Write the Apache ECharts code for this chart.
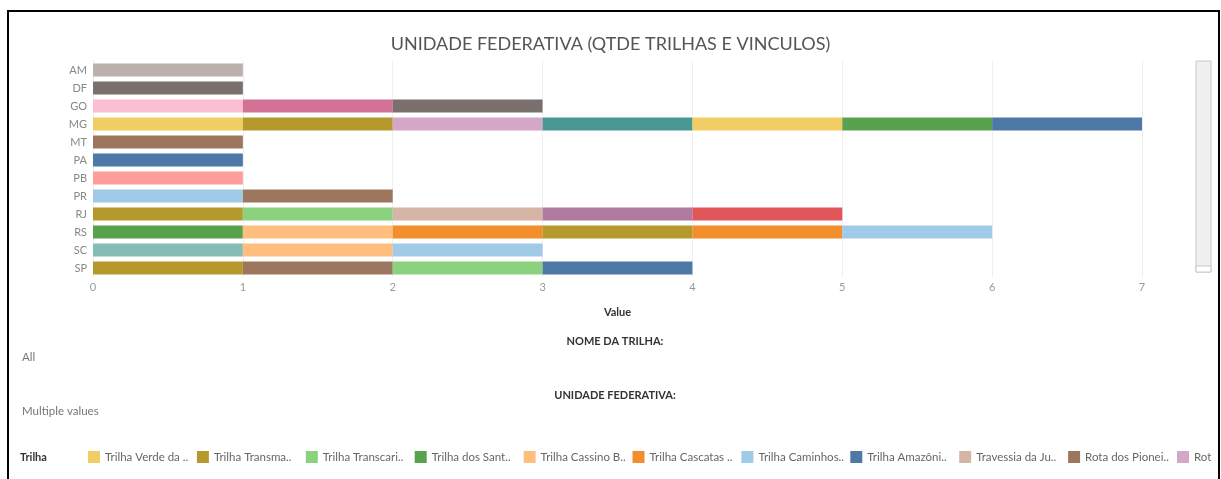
<!DOCTYPE html>
<html>
<head>
<meta charset="utf-8">
<script src="https://cdn.jsdelivr.net/npm/echarts@6/dist/echarts.min.js"></script>
<style>
  html, body { margin: 0; padding: 0; background: #fff; }
  #main { width: 1221px; height: 479px; }
</style>
</head>
<body>
<div id="main"></div>
<script>
// estados (eixo Y)
var states = ['AM', 'DF', 'GO', 'MG', 'MT', 'PA', 'PB', 'PR', 'RJ', 'RS', 'SC', 'SP'];

// cores de cada trilha vinculada, na ordem em que aparecem na barra (cada trilha = 1)
var stateTrails = [
  ['#BAB0AC'],
  ['#79706E'],
  ['#FABFD2', '#D37295', '#79706E'],
  ['#F1CE63', '#B6992D', '#D4A6C8', '#499894', '#F1CE63', '#59A14F', '#4E79A7'],
  ['#9D7660'],
  ['#4E79A7'],
  ['#FF9D9A'],
  ['#A0CBE8', '#9D7660'],
  ['#B6992D', '#8CD17D', '#D7B5A6', '#B07AA1', '#E15759'],
  ['#59A14F', '#FFBE7D', '#F28E2B', '#B6992D', '#F28E2B', '#A0CBE8'],
  ['#86BCB6', '#FFBE7D', '#A0CBE8'],
  ['#B6992D', '#9D7660', '#8CD17D', '#4E79A7']
];
var trailValue = 1; // cada vinculo conta 1

// legenda
var legendNames = ['Trilha Verde da ..', 'Trilha Transma..', 'Trilha Transcari..', 'Trilha dos Sant..',
  'Trilha Cassino B..', 'Trilha Cascatas ..', 'Trilha Caminhos..', 'Trilha Amazôni..',
  'Travessia da Ju..', 'Rota dos Pionei..', 'Rot'];
var legendColors = ['#F1CE63', '#B6992D', '#8CD17D', '#59A14F', '#FFBE7D', '#F28E2B',
  '#A0CBE8', '#4E79A7', '#D7B5A6', '#9D7660', '#D4A6C8'];

var xTicks = [0, 1, 2, 3, 4, 5, 6, 7];

var font = 'Lato, "Noto Sans", sans-serif';

// monta uma serie por posicao do segmento
var maxSeg = Math.max.apply(null, stateTrails.map(function (s) { return s.length; }));
var series = [];
for (var k = 0; k < maxSeg; k++) {
  series.push({
    type: 'bar',
    stack: 'total',
    barWidth: 13,
    silent: true,
    data: stateTrails.map(function (cols) {
      if (k < cols.length) return { value: trailValue, itemStyle: { color: cols[k] } };
      return '-';
    })
  });
}

// elementos extras (filtros, legenda, moldura)
var graphics = [
  { type: 'rect', shape: { x: 8, y: 11, width: 1211, height: 490 }, style: { fill: 'none', stroke: '#000', lineWidth: 2 } },
  { type: 'rect', shape: { x: 1196, y: 61, width: 15, height: 211 }, style: { fill: '#f0f0f0', stroke: '#c8c8c8', lineWidth: 1 } },
  { type: 'rect', shape: { x: 1196, y: 266, width: 15, height: 6 }, style: { fill: '#fff', stroke: '#c8c8c8', lineWidth: 1 } },
  { type: 'text', x: 615, y: 341, style: { text: 'NOME DA TRILHA:', fill: '#333', font: 'bold 11px ' + font, textAlign: 'center', textVerticalAlign: 'middle' } },
  { type: 'text', x: 22, y: 357, style: { text: 'All', fill: '#777', font: '11.5px ' + font, textVerticalAlign: 'middle' } },
  { type: 'text', x: 615, y: 395, style: { text: 'UNIDADE FEDERATIVA:', fill: '#333', font: 'bold 11px ' + font, textAlign: 'center', textVerticalAlign: 'middle' } },
  { type: 'text', x: 22, y: 411, style: { text: 'Multiple values', fill: '#777', font: '11.5px ' + font, textVerticalAlign: 'middle' } },
  { type: 'text', x: 20, y: 457, style: { text: 'Trilha', fill: '#333', font: 'bold 11px ' + font, textVerticalAlign: 'middle' } }
];
legendNames.forEach(function (name, i) {
  var x = 88 + i * 108.9;
  graphics.push({ type: 'rect', shape: { x: x, y: 451, width: 12, height: 12 }, style: { fill: legendColors[i] } });
  graphics.push({ type: 'text', x: x + 17, y: 457, style: { text: name, fill: '#666', font: '11.5px ' + font, textVerticalAlign: 'middle' } });
});

var chart = echarts.init(document.getElementById('main'));
chart.setOption({
  animation: false,
  title: {
    text: 'UNIDADE FEDERATIVA (QTDE TRILHAS E VINCULOS)',
    left: 'center',
    top: 30,
    textStyle: { color: '#555', fontSize: 18, fontWeight: 'normal', fontFamily: font }
  },
  grid: { left: 93, right: 79, top: 61, height: 216 },
  xAxis: {
    type: 'value',
    min: xTicks[0],
    max: xTicks[xTicks.length - 1],
    interval: 1,
    name: 'Value',
    nameLocation: 'middle',
    nameGap: 30,
    nameTextStyle: { color: '#333', fontWeight: 'bold', fontSize: 11, fontFamily: font },
    axisLine: { show: false },
    axisTick: { show: false },
    axisLabel: { color: '#999', fontSize: 11, fontFamily: font, margin: 5 },
    splitLine: { show: true, lineStyle: { color: '#eeeeee', width: 1 } }
  },
  yAxis: {
    type: 'category',
    inverse: true,
    data: states,
    axisLine: { show: false },
    axisTick: { show: false },
    axisLabel: { color: '#888', fontSize: 11, fontFamily: font, margin: 6 }
  },
  series: series,
  graphic: graphics
});
</script>
</body>
</html>
